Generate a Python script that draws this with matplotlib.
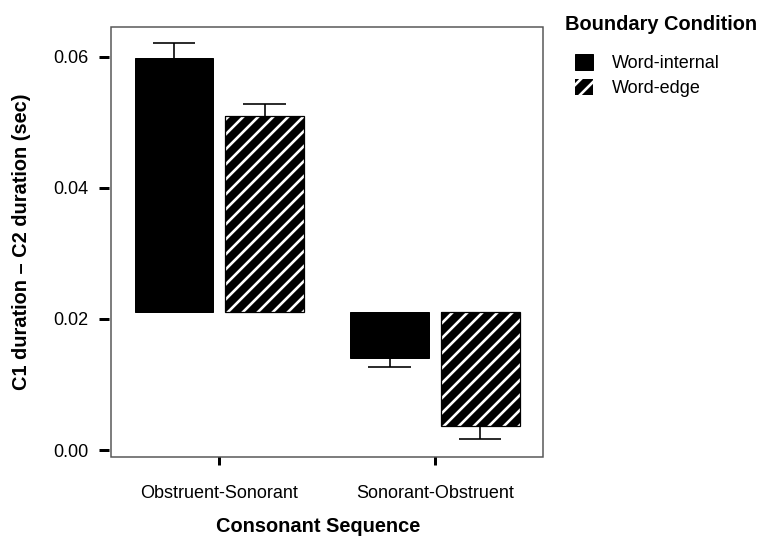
import numpy as np
import matplotlib
matplotlib.use("Agg")
import matplotlib.pyplot as plt

# values (bars hang from a common origin like SPSS does)
groups = ["Obstruent-Sonorant", "Sonorant-Obstruent"]
conditions = ["Word-internal", "Word-edge"]
origin = 0.0211
internal_mean = [0.0597, 0.0140]
edge_mean = [0.0509, 0.0037]
internal_tip = [0.0621, 0.0127]   # end of the one-sided error bar
edge_tip = [0.0528, 0.0017]
yticks = [0.00, 0.02, 0.04, 0.06]

plt.rcParams['font.family'] = ['Liberation Sans', 'DejaVu Sans']
plt.rcParams['hatch.linewidth'] = 2.1

DPI = 90
fig = plt.figure(figsize=(759 / DPI, 536 / DPI), dpi=DPI)
ax = fig.add_axes([0.1469, 0.1479, 0.5681, 0.8017])

x = np.arange(len(groups))
w = 0.365
off = 0.21
cap = 0.098

ax.bar(x - off, np.array(internal_mean) - origin, bottom=origin, width=w,
       color='black', edgecolor='black', linewidth=0.8, label=conditions[0])
ax.bar(x + off, np.array(edge_mean) - origin, bottom=origin, width=w,
       color='black', edgecolor='white', hatch='//', linewidth=0, label=conditions[1])
ax.bar(x + off, np.array(edge_mean) - origin, bottom=origin, width=w,
       fill=False, edgecolor='black', linewidth=1.0)

for xs, means, tips in [(x - off, internal_mean, internal_tip),
                        (x + off, edge_mean, edge_tip)]:
    ax.vlines(xs, means, tips, color='black', linewidth=1.3)
    ax.hlines(tips, xs - cap, xs + cap, color='black', linewidth=1.3)

ax.set_xlim(-0.5, 1.5)
ax.set_ylim(-0.00102, 0.0645)
ax.set_yticks(yticks)
ax.set_yticklabels([f"{v:.2f}" for v in yticks])
ax.set_xticks(x)
ax.set_xticklabels(groups)

for s in ax.spines.values():
    s.set_visible(False)
ax.spines['left'].set_position(('outward', 1.6))
ax.patch.set_edgecolor('#555555')
ax.patch.set_linewidth(1.2)

ax.tick_params(axis='y', direction='out', length=8, width=2.4, pad=8.5,
               labelsize=14.4)
ax.tick_params(axis='x', direction='out', length=6.4, width=2.4, pad=16.5,
               labelsize=14.4)

ax.set_xlabel("Consonant Sequence", fontsize=16, fontweight='bold', labelpad=12)
ax.xaxis.label.set_x(0.479)
ax.set_ylabel("C1 duration \u2013 C2 duration (sec)", fontsize=16,
              fontweight='bold', labelpad=18)

fig.text(565 / 759, 1 - 25 / 536, "Boundary Condition", fontsize=16,
         fontweight='bold', ha='left', va='center')
ax.legend(loc='upper left', bbox_to_anchor=(575 / 759, 1 - 54 / 536),
          bbox_transform=fig.transFigure, frameon=False, fontsize=14.4,
          handlelength=1.0, handleheight=1.0, handletextpad=1.05,
          labelspacing=0.35, borderpad=0, borderaxespad=0)

fig.savefig("out.png", dpi=DPI)
